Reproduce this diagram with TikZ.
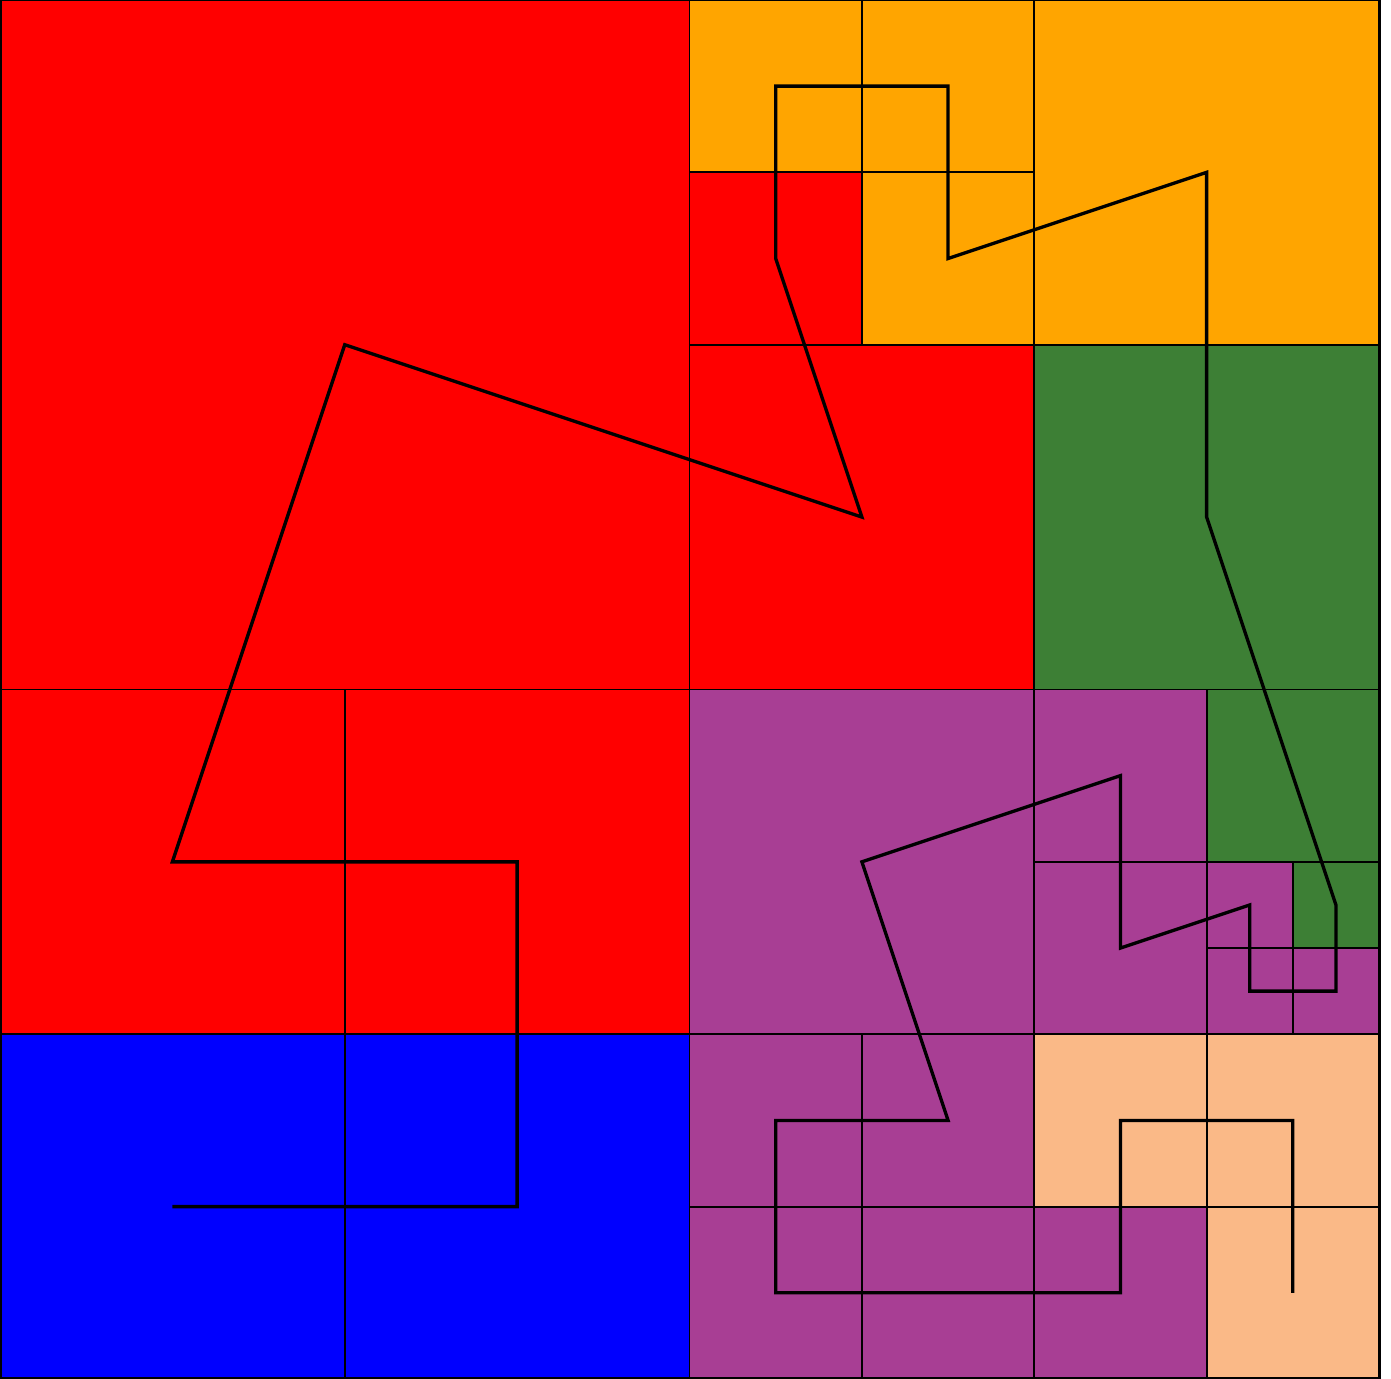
\documentclass[tikz,border=0pt]{standalone}
\definecolor{cred}{RGB}{255,0,0}
\definecolor{corange}{RGB}{255,165,0}
\definecolor{cgreen}{RGB}{61,127,53}
\definecolor{cpurple}{RGB}{168,62,148}
\definecolor{cblue}{RGB}{0,0,255}
\definecolor{cpeach}{RGB}{250,185,135}
\tikzset{cellbox/.style={draw=black, line width=0.6pt}, curve/.style={draw=black, line width=1.1pt, line join=miter}}
\newcommand{\cellat}[4]{\path[cellbox, fill=#1] (#2,16-#3) rectangle ++(#4,-#4);}
\begin{document}
\begin{tikzpicture}
\useasboundingbox (0,0) rectangle (16.1392,16);
% top-left quadrant
\cellat{cred}{0}{0}{8}
% top-right quadrant
\cellat{corange}{8}{0}{2}
\cellat{corange}{10}{0}{2}
\cellat{cred}{8}{2}{2}
\cellat{corange}{10}{2}{2}
\cellat{corange}{12}{0}{4}
\cellat{cred}{8}{4}{4}
\cellat{cgreen}{12}{4}{4}
% bottom-left quadrant
\cellat{cred}{0}{8}{4}
\cellat{cred}{4}{8}{4}
\cellat{cblue}{0}{12}{4}
\cellat{cblue}{4}{12}{4}
% bottom-right quadrant
\cellat{cpurple}{8}{8}{4}
\cellat{cpurple}{12}{8}{2}
\cellat{cgreen}{14}{8}{2}
\cellat{cpurple}{12}{10}{2}
\cellat{cpurple}{14}{10}{1}
\cellat{cgreen}{15}{10}{1}
\cellat{cpurple}{14}{11}{1}
\cellat{cpurple}{15}{11}{1}
\cellat{cpurple}{8}{12}{2}
\cellat{cpurple}{10}{12}{2}
\cellat{cpurple}{8}{14}{2}
\cellat{cpurple}{10}{14}{2}
\cellat{cpeach}{12}{12}{2}
\cellat{cpeach}{14}{12}{2}
\cellat{cpurple}{12}{14}{2}
\cellat{cpeach}{14}{14}{2}
% outer border
\draw[line width=1pt] (0,0) rectangle (16,16);
% curve
\draw[curve] (2,16-14) -- (6,16-14) -- (6,16-10) -- (2,16-10) -- (4,16-4) -- (10,16-6)
 -- (9,16-3) -- (9,16-1) -- (11,16-1) -- (11,16-3) -- (14,16-2) -- (14,16-6)
 -- (15.5,16-10.5) -- (15.5,16-11.5) -- (14.5,16-11.5) -- (14.5,16-10.5)
 -- (13,16-11) -- (13,16-9) -- (10,16-10) -- (11,16-13) -- (9,16-13) -- (9,16-15)
 -- (13,16-15) -- (13,16-13) -- (15,16-13) -- (15,16-15);
\end{tikzpicture}
\end{document}
